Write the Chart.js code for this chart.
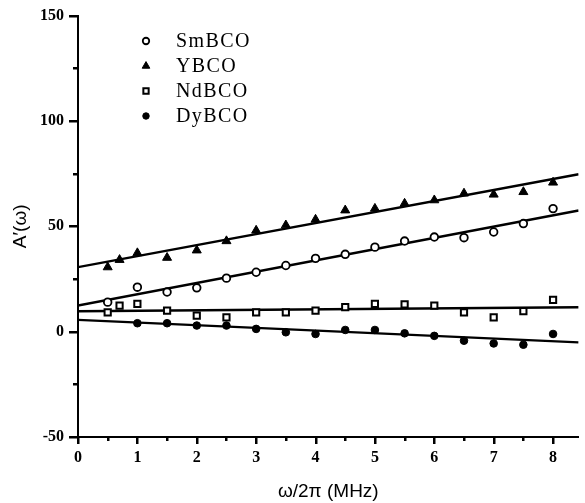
<!DOCTYPE html>
<html><head><meta charset="utf-8">
<script src="https://cdn.jsdelivr.net/npm/chart.js@4/dist/chart.umd.min.js"></script>
<style>html,body{margin:0;padding:0;background:#fff;overflow:hidden}canvas{display:block}</style>
</head><body>
<canvas id="c" width="585" height="503"></canvas>
<script>
// ---- data ----
const seriesNames = ['SmBCO', 'YBCO', 'NdBCO', 'DyBCO'];

const xSmBCO = [0.5, 1, 1.5, 2, 2.5, 3, 3.5, 4, 4.5, 5, 5.5, 6, 6.5, 7, 7.5, 8];
const ySmBCO = [14, 21.1, 18.8, 20.8, 25.4, 28.2, 31.4, 34.8, 36.7, 40.1, 43, 44.9, 44.6, 47.3, 51.3, 58.4];

const xYBCO = [0.5, 0.7, 1, 1.5, 2, 2.5, 3, 3.5, 4, 4.5, 5, 5.5, 6, 6.5, 7, 7.5, 8];
const yYBCO = [30.6, 34.1, 37.3, 35.1, 38.6, 43, 48, 50.5, 53.2, 57.6, 58.4, 60.8, 62.4, 65.6, 65.1, 66.3, 70.8];

const xNdBCO = [0.5, 0.7, 1, 1.5, 2, 2.5, 3, 3.5, 4, 4.5, 5, 5.5, 6, 6.5, 7, 7.5, 8];
const yNdBCO = [9.2, 12.4, 13.2, 10, 7.6, 6.8, 9.2, 9.2, 10, 11.6, 13.2, 12.9, 12.4, 9.2, 6.8, 9.7, 15.1];

const xDyBCO = [1, 1.5, 2, 2.5, 3, 3.5, 4, 4.5, 5, 5.5, 6, 6.5, 7, 7.5, 8];
const yDyBCO = [4, 4, 2.9, 2.9, 1.3, -0.3, -1.1, 0.8, 0.8, -0.8, -2, -4.3, -5.6, -6.2, -1.1];

// fitted straight lines (intercept, slope) per series, same order as seriesNames
const fitIntercepts = [12.4, 30.6, 9.7, 5.6];
const fitSlopes = [5.35, 5.23, 0.22, -1.27];

const xMin = 0, xMax = 8.43, yMin = -50, yMax = 150;
const xTickLabels = [0, 1, 2, 3, 4, 5, 6, 7, 8];
const yTickLabels = [-50, 0, 50, 100, 150];
const xTitle = 'ω/2π (MHz)';
const yTitle = 'A′(ω)';

// ---- build datasets ----
const xs = [xSmBCO, xYBCO, xNdBCO, xDyBCO];
const ys = [ySmBCO, yYBCO, yNdBCO, yDyBCO];
const markerStyles = [
  {pointStyle: 'circle', pointRadius: 3.8, pointBorderWidth: 1.8, pointBackgroundColor: '#fff'},
  {pointStyle: 'triangle', pointRadius: 5.2, pointBorderWidth: 1, pointBackgroundColor: '#000'},
  {pointStyle: 'rect', pointRadius: 4.4, pointBorderWidth: 2, pointBackgroundColor: '#fff'},
  {pointStyle: 'circle', pointRadius: 3.8, pointBorderWidth: 1, pointBackgroundColor: '#000'}
];

const datasets = [];
seriesNames.forEach((name, i) => {
  datasets.push(Object.assign({
    type: 'scatter',
    label: name,
    data: xs[i].map((x, k) => ({x: x, y: ys[i][k]})),
    pointBorderColor: '#000',
    showLine: false,
    order: 0
  }, markerStyles[i]));
});
seriesNames.forEach((name, i) => {
  datasets.push({
    type: 'line',
    label: name + ' fit',
    data: [xMin, xMax].map(x => ({x: x, y: fitIntercepts[i] + fitSlopes[i] * x})),
    borderColor: '#000',
    borderWidth: 2.4,
    pointRadius: 0,
    fill: false,
    order: 1
  });
});

// ---- helpers ----
function drawMarker(ctx, st, x, y) {
  const r = st.pointRadius;
  ctx.save();
  ctx.lineWidth = st.pointBorderWidth;
  ctx.strokeStyle = '#000';
  ctx.fillStyle = st.pointBackgroundColor;
  ctx.beginPath();
  if (st.pointStyle === 'circle') {
    ctx.arc(x, y, r, 0, Math.PI * 2);
  } else if (st.pointStyle === 'triangle') {
    for (let k = 0; k < 3; k++) {
      const a = k * 2 * Math.PI / 3;
      const px = x + Math.sin(a) * r, py = y - Math.cos(a) * r;
      if (k === 0) ctx.moveTo(px, py); else ctx.lineTo(px, py);
    }
    ctx.closePath();
  } else {
    const s = r * Math.SQRT1_2;
    ctx.rect(x - s, y - s, 2 * s, 2 * s);
  }
  ctx.fill();
  ctx.stroke();
  ctx.restore();
}

function isMajor(v, list) {
  return list.some(m => Math.abs(m - v) < 1e-6);
}

const tickMarks = {
  id: 'tickMarks',
  afterDraw(chart) {
    const ctx = chart.ctx;
    const sx = chart.scales.x, sy = chart.scales.y;
    const left = chart.chartArea.left, bottom = chart.chartArea.bottom;
    ctx.save();
    ctx.fillStyle = '#000000';
    for (const t of sy.ticks) {
      const p = Math.round(sy.getPixelForValue(t.value));
      const len = isMajor(t.value, yTickLabels) ? 9 : 5;
      ctx.fillRect(left - len, p - 1, len + 1, 2.5);
    }
    for (const t of sx.ticks) {
      const p = Math.round(sx.getPixelForValue(t.value));
      const len = isMajor(t.value, xTickLabels) ? 7 : 4;
      ctx.fillRect(p - 1, bottom, 2.5, len);
    }
    ctx.restore();
  }
};

const customLegend = {
  id: 'customLegend',
  afterDraw(chart) {
    const ctx = chart.ctx;
    const mx = 146, tx = 176, y0 = 41, dy = 25;
    ctx.save();
    ctx.font = '20px "Liberation Serif", "Times New Roman", serif';
    ctx.fillStyle = '#000';
    ctx.textBaseline = 'middle';
    ctx.textAlign = 'left';
    try { ctx.letterSpacing = '1.4px'; } catch (e) {}
    seriesNames.forEach((name, i) => {
      const y = y0 + i * dy;
      const st = Object.assign({}, markerStyles[i]);
      st.pointRadius = st.pointRadius * 0.85;
      drawMarker(ctx, st, mx, y);
      ctx.fillText(name, tx, y + 1);
    });
    ctx.restore();
  }
};

const tickFont = {family: '"Liberation Serif", "Times New Roman", serif', size: 16, weight: 'bold'};
const titleFont = {family: '"Liberation Sans", Arial, sans-serif', size: 19};

new Chart(document.getElementById('c'), {
  data: {datasets: datasets},
  options: {
    responsive: false,
    animation: false,
    devicePixelRatio: 1,
    layout: {padding: {top: 15, right: 0, left: 0, bottom: 0}},
    plugins: {legend: {display: false}, tooltip: {enabled: false}},
    scales: {
      x: {
        type: 'linear',
        min: xMin, max: xMax,
        afterFit: s => { s.height = 66; },
        ticks: {
          stepSize: 0.5, includeBounds: false, autoSkip: false, maxRotation: 0, color: '#000', font: tickFont, padding: 4,
          callback: v => isMajor(v, xTickLabels) ? String(Math.round(v)) : ''
        },
        grid: {drawOnChartArea: false, drawTicks: true, tickLength: 7, tickColor: 'rgba(0,0,0,0)'},
        border: {display: true, color: '#000', width: 2},
        title: {display: true, text: xTitle, color: '#000', font: titleFont, padding: {top: 0, bottom: 0}}
      },
      y: {
        type: 'linear',
        min: yMin, max: yMax,
        afterFit: s => { s.width = 78; },
        ticks: {
          stepSize: 25, autoSkip: false, color: '#000', font: tickFont, padding: 6,
          callback: v => isMajor(v, yTickLabels) ? String(Math.round(v)) : ''
        },
        grid: {drawOnChartArea: false, drawTicks: true, tickLength: 8, tickColor: 'rgba(0,0,0,0)'},
        border: {display: true, color: '#000', width: 2},
        title: {display: true, text: yTitle, color: '#000', font: titleFont, padding: {top: 9, bottom: 0}}
      }
    }
  },
  plugins: [tickMarks, customLegend]
});
</script>
</body></html>
